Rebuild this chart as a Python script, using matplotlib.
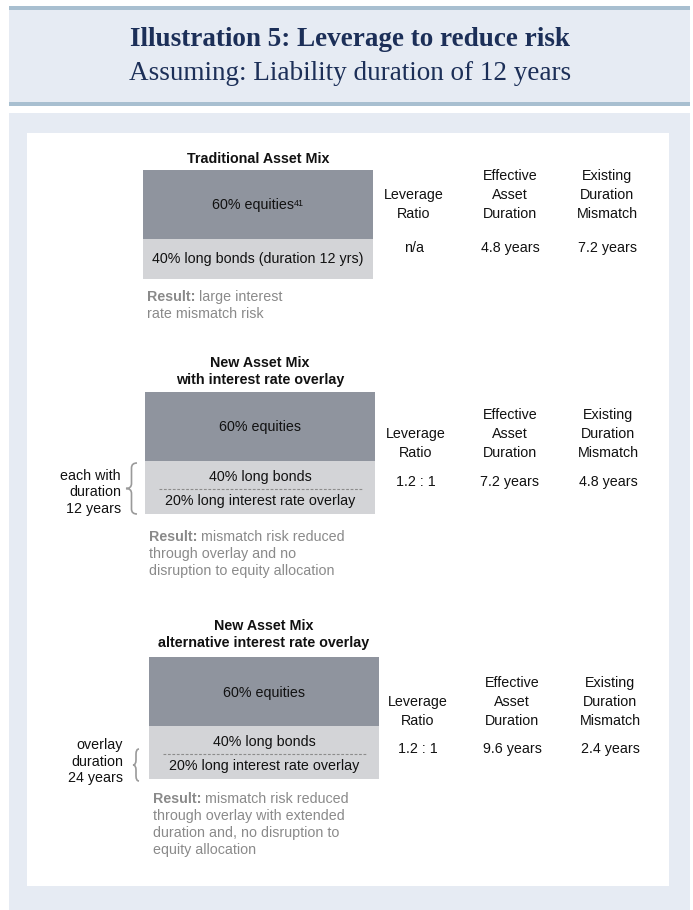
import matplotlib.pyplot as plt
from matplotlib.patches import Rectangle, PathPatch
from matplotlib.path import Path

plt.rcParams['font.family'] = ['Liberation Sans', 'DejaVu Sans']

# 数据
block_titles = ['Traditional Asset Mix',
                'New Asset Mix\nwith interest rate overlay',
                'New Asset Mix\nalternative interest rate overlay']
equity_pct = [60, 60, 60]
bond_pct = [40, 40, 40]
overlay_pct = [0, 20, 20]
equity_labels = ['60% equities', '60% equities', '60% equities']
equity_notes = ['41', '', '']
bond_labels = ['40% long bonds (duration 12 yrs)', '40% long bonds', '40% long bonds']
overlay_labels = ['', '20% long interest rate overlay', '20% long interest rate overlay']
col_headers = [['Leverage', 'Ratio'], ['Effective', 'Asset', 'Duration'],
               ['Existing', 'Duration', 'Mismatch']]
leverage_ratio = ['n/a', '1.2 : 1', '1.2 : 1']
effective_duration = ['4.8 years', '7.2 years', '9.6 years']
duration_mismatch = ['7.2 years', '4.8 years', '2.4 years']
result_texts = [['large interest', 'rate mismatch risk'],
                ['mismatch risk reduced', 'through overlay and no',
                 'disruption to equity allocation'],
                ['mismatch risk reduced', 'through overlay with extended',
                 'duration and, no disruption to', 'equity allocation']]
side_notes = [[], ['each with', 'duration', '12 years'],
              ['overlay', 'duration', '24 years']]

# 版面位置（像素）
box_left = [143, 145, 149]
box_top = [170, 392, 657]
box_w = 230
title_y = [159, 380, 643]
col_x = [[414, 510, 607], [416, 510, 608], [418, 512, 610]]
head_y = [214, 453, 721]
val_y = [248, 482, 749]
result_gap = [18, 23, 20]
note_x = [0, 121, 123]
note_y = [0, 476, 745]
brace_pos = [None, (126, 137, 463, 514), (133, 139, 749, 781)]

eq_color = '#8f949e'
low_color = '#d3d4d7'
txt_color = '#111111'
gray = '#8a8a8a'
navy = '#1c2f58'
fs = 10.3

fig = plt.figure(figsize=(6.93, 9.10), dpi=100)
ax = fig.add_axes([0, 0, 1, 1])
ax.set_xlim(0, 693)
ax.set_ylim(910, 0)
ax.axis('off')

# 背景与标题栏
ax.add_patch(Rectangle((9, 8), 681, 95, color='#e6ebf3', lw=0))
ax.add_patch(Rectangle((9, 6), 681, 3.5, color='#a8bfd0', lw=0))
ax.add_patch(Rectangle((9, 102), 681, 4, color='#a8bfd0', lw=0))
ax.add_patch(Rectangle((9, 113), 681, 797, color='#e6ebf3', lw=0))
ax.add_patch(Rectangle((27, 133), 642, 753, color='white', lw=0))

ax.text(350, 39, 'Illustration 5: Leverage to reduce risk', ha='center', va='center',
        fontsize=19.5, fontweight='bold', color=navy, family='Liberation Serif')
ax.text(350, 73, 'Assuming: Liability duration of 12 years', ha='center', va='center',
        fontsize=19.5, color=navy, family='Liberation Serif')


def brace(x_tip, x_arm, y0, y1):
    ym = (y0 + y1) / 2
    xm = (x_tip + x_arm) / 2
    r = min(5, (y1 - y0) / 4)
    verts = [(x_arm, y0), (xm, y0), (xm, y0 + r), (xm, ym - r), (xm, ym), (x_tip, ym),
             (xm, ym), (xm, ym + r), (xm, y1 - r), (xm, y1), (x_arm, y1)]
    codes = [Path.MOVETO, Path.CURVE3, Path.CURVE3, Path.LINETO, Path.CURVE3, Path.CURVE3,
             Path.CURVE3, Path.CURVE3, Path.LINETO, Path.CURVE3, Path.CURVE3]
    ax.add_patch(PathPatch(Path(verts, codes), fill=False, edgecolor='#9a9a9a', lw=1.2))


px_eq = 1.15     # 股票部分每个百分点的像素高度
px_low = 1.0     # 债券部分
px_ovl = 0.65    # 叠加部分

for i in range(3):
    cx = box_left[i] + box_w / 2
    eq_h = equity_pct[i] * px_eq
    low_h = bond_pct[i] * px_low + overlay_pct[i] * px_ovl
    ax.bar(cx, eq_h, bottom=box_top[i], width=box_w, color=eq_color, lw=0)
    ax.bar(cx, low_h, bottom=box_top[i] + eq_h, width=box_w, color=low_color, lw=0)

    # 标题
    lines = block_titles[i].split('\n')
    for j, line in enumerate(lines):
        ax.text(cx, title_y[i] - 17 * (len(lines) - 1 - j), line, ha='center', va='center',
                fontsize=fs, fontweight='bold', color=txt_color)

    # 方框内文字
    shift = -5 if equity_notes[i] else 0
    t = ax.text(cx + shift, box_top[i] + eq_h / 2 + 1, equity_labels[i], ha='center',
                va='center', fontsize=fs, color=txt_color)
    if equity_notes[i]:
        ax.annotate(equity_notes[i], xy=(1, 1), xycoords=t, ha='left', va='top',
                    fontsize=6.5, color=txt_color)
    low_top = box_top[i] + eq_h
    if overlay_pct[i] == 0:
        ax.text(cx, low_top + low_h / 2, bond_labels[i], ha='center', va='center',
                fontsize=fs, color=txt_color)
    else:
        ax.text(cx, low_top + 16, bond_labels[i], ha='center', va='center',
                fontsize=fs, color=txt_color)
        ax.plot([box_left[i] + 14, box_left[i] + box_w - 13], [low_top + 27.5] * 2,
                ls=(0, (2.5, 1.5)), color='#8c8c8c', lw=0.8)
        ax.text(cx, low_top + 40, overlay_labels[i], ha='center', va='center',
                fontsize=fs, color=txt_color)

    # 结果说明
    ry = low_top + low_h + result_gap[i]
    for j, line in enumerate(result_texts[i]):
        if j == 0:
            t = ax.text(box_left[i] + 4, ry, 'Result:', ha='left', va='center',
                        fontsize=fs, fontweight='bold', color=gray)
            ax.annotate(' ' + line, xy=(1, 0), xycoords=t, ha='left', va='bottom',
                        fontsize=fs, color=gray)
        else:
            ax.text(box_left[i] + 4, ry + 17 * j, line, ha='left', va='center',
                    fontsize=fs, color=gray)

    # 右侧指标
    for k, head in enumerate(col_headers):
        for j, line in enumerate(head):
            ax.text(col_x[i][k], head_y[i] - 19 * (len(head) - 1 - j), line,
                    ha='center', va='center', fontsize=fs, color=txt_color)
    vals = [leverage_ratio[i], effective_duration[i], duration_mismatch[i]]
    for k, v in enumerate(vals):
        ax.text(col_x[i][k], val_y[i], v, ha='center', va='center',
                fontsize=fs, color=txt_color)

    # 左侧注释和括号
    for j, line in enumerate(side_notes[i]):
        ax.text(note_x[i], note_y[i] + 16.5 * j, line, ha='right', va='center',
                fontsize=fs, color=txt_color)
    if brace_pos[i] is not None:
        brace(*brace_pos[i])

plt.savefig('out.png', dpi=100)
